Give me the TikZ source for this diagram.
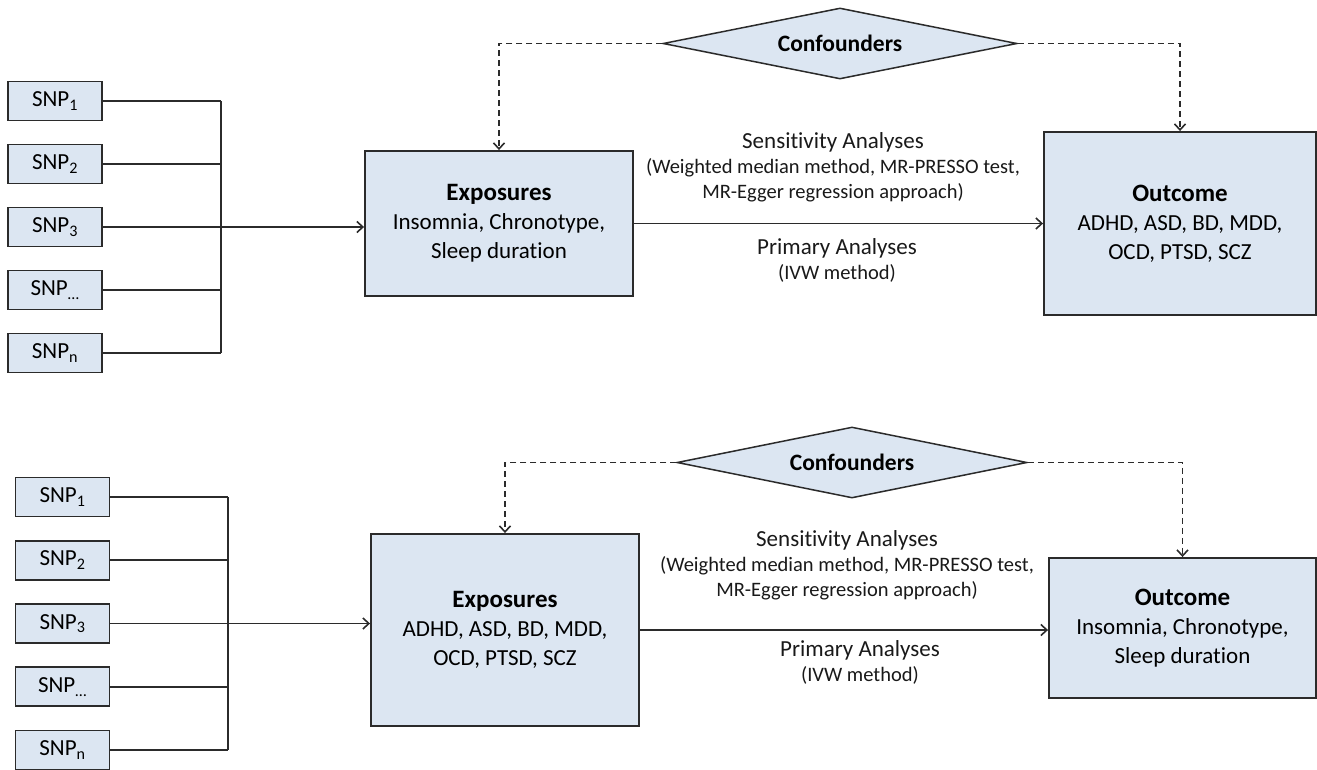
\documentclass[tikz,border=0pt]{standalone}
\usepackage{fontspec}
\setmainfont{Carlito}[Ligatures=NoCommon]
\usetikzlibrary{shapes.geometric,arrows.meta}

\definecolor{boxfill}{HTML}{DCE6F2}
\definecolor{edge}{HTML}{2B2B2B}

\begin{document}
\begin{tikzpicture}[x=1pt,y=-1pt,
  snpbox/.style={draw=edge,fill=boxfill,line width=1.9pt,inner sep=0pt,
    minimum width=94pt,minimum height=39pt,font=\fontsize{23}{28}\selectfont},
  mainbox/.style={draw=edge,fill=boxfill,line width=1.9pt,inner sep=0pt,
    align=center,font=\fontsize{23}{29}\selectfont},
  confbox/.style={diamond,draw=edge,fill=boxfill,line width=1.5pt,inner sep=0pt,
    aspect=5,font=\bfseries\fontsize{23.5}{28}\selectfont},
  lbl/.style={align=center,inner sep=0pt,text=black!90,font=\fontsize{20.5}{25}\selectfont},
  link/.style={draw=edge,line width=1.6pt},
  arrowlink/.style={link,-{Straight Barb[length=6pt,width=11pt]}},
  dashlink/.style={arrowlink,dash pattern=on 6pt off 4pt}]

\useasboundingbox (0,0) rectangle (1317,769);

% upper panel: sleep traits -> psychiatric disorders
\foreach \i/\sub in {1/1,2/2,3/3,4/{\ldots},5/n}
  \node[snpbox] (snpa\i) at (55,{101+63*(\i-1)}) {SNP\textsubscript{\sub}};
\coordinate (busa) at (221,0);

\node[mainbox,minimum width=268pt,minimum height=145pt] (expa) at (499,223.5)
  {{\bfseries\fontsize{25}{29}\selectfont Exposures}\\Insomnia, Chronotype,\\Sleep duration};
\node[mainbox,minimum width=272pt,minimum height=183pt] (outa) at (1180,223.5)
  {{\bfseries\fontsize{25}{29}\selectfont Outcome}\\ADHD, ASD, BD, MDD,\\OCD, PTSD, SCZ};
\node[confbox,minimum width=354pt,minimum height=71pt] (confa) at (840,43.5) {Confounders};

\node[lbl] (sensa) at (833,167) {{\fontsize{23}{25}\selectfont Sensitivity Analyses}\\
  (Weighted median method, MR-PRESSO test,\\MR-Egger regression approach)};
\node[lbl] (prima) at (837,260) {{\fontsize{23}{26}\selectfont Primary Analyses}\\(IVW method)};

\foreach \i in {1,2,4,5}
  \draw[link] (snpa\i.east) -- (snpa\i.east -| busa);
\draw[link] (snpa1.east -| busa) -- (snpa5.east -| busa);
\draw[arrowlink] (snpa3.east) -- (snpa3.east -| expa.west);
\draw[arrowlink] (expa.east) -- (expa.east -| outa.west);
\draw[dashlink] (confa.west) -| (expa.north);
\draw[dashlink] (confa.east) -| (outa.north);

% lower panel: psychiatric disorders -> sleep traits
\foreach \i/\sub in {1/1,2/2,3/3,4/{\ldots},5/n}
  \node[snpbox] (snpb\i) at (62.5,{497+63.25*(\i-1)}) {SNP\textsubscript{\sub}};
\coordinate (busb) at (228,0);

\node[mainbox,minimum width=268pt,minimum height=192pt] (expb) at (505,630)
  {{\bfseries\fontsize{25}{29}\selectfont Exposures}\\ADHD, ASD, BD, MDD,\\OCD, PTSD, SCZ};
\node[mainbox,minimum width=267pt,minimum height=140pt] (outb) at (1182.5,628)
  {{\bfseries\fontsize{25}{29}\selectfont Outcome}\\Insomnia, Chronotype,\\Sleep duration};
\node[confbox,minimum width=350pt,minimum height=71pt] (confb) at (852,462.5) {Confounders};

\node[lbl] (sensb) at (847,565) {{\fontsize{23}{25}\selectfont Sensitivity Analyses}\\
  (Weighted median method, MR-PRESSO test,\\MR-Egger regression approach)};
\node[lbl] (primb) at (860,662.5) {{\fontsize{23}{26}\selectfont Primary Analyses}\\(IVW method)};

\foreach \i in {1,2,4,5}
  \draw[link] (snpb\i.east) -- (snpb\i.east -| busb);
\draw[link] (snpb1.east -| busb) -- (snpb5.east -| busb);
\draw[arrowlink] (snpb3.east) -- (snpb3.east -| expb.west);
\draw[arrowlink] (expb.east) -- (expb.east -| outb.west);
\draw[dashlink] (confb.west) -| (expb.north);
\draw[dashlink] (confb.east) -| (outb.north);

\end{tikzpicture}
\end{document}
